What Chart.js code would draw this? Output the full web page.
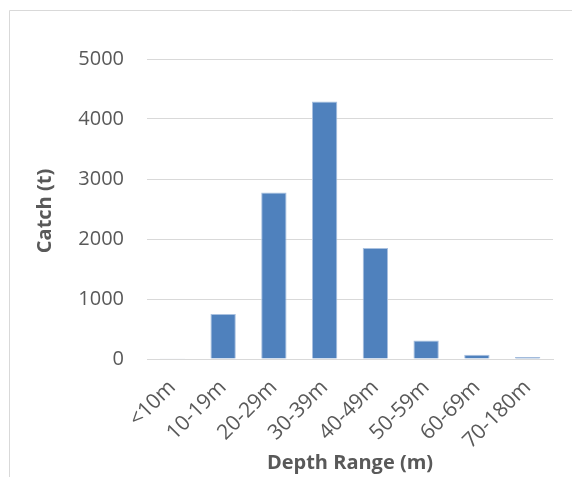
<!DOCTYPE html>
<html>
<head>
<meta charset="utf-8">
<script src="https://cdn.jsdelivr.net/npm/chart.js@4/dist/chart.umd.min.js"></script>
<style>
  html, body { margin: 0; padding: 0; background: #ffffff; }
  #wrap { width: 572px; height: 477px; position: relative; }
</style>
</head>
<body>
<div id="wrap"><canvas id="c" width="572" height="477"></canvas></div>
<script>
// Catch by depth band
const depthRanges = ['<10m', '10-19m', '20-29m', '30-39m', '40-49m', '50-59m', '60-69m', '70-180m'];
const catchTonnes = [12, 750, 2775, 4290, 1850, 310, 72, 33];
const yTicks = [0, 1000, 2000, 3000, 4000, 5000];
const xTitle = 'Depth Range (m)';
const yTitle = 'Catch (t)';

const FONT = "'Open Sans', 'Liberation Sans', sans-serif";
const TEXT = '#595959';
const GRID = '#d9d9d9';

// Thin outer frame around the chart object, plus the two axis titles
const decorPlugin = {
  id: 'decor',
  beforeDraw(chart) {
    const ctx = chart.ctx;
    ctx.save();
    ctx.strokeStyle = GRID;
    ctx.lineWidth = 1;
    ctx.beginPath();
    ctx.moveTo(9.5, chart.height + 2);
    ctx.lineTo(9.5, 10.5);
    ctx.lineTo(chart.width + 2, 10.5);
    ctx.stroke();
    ctx.restore();
  },
  afterDraw(chart) {
    const ctx = chart.ctx;
    const area = chart.chartArea;
    ctx.save();
    ctx.fillStyle = TEXT;
    ctx.font = "bold 20px " + FONT;
    ctx.textAlign = 'center';
    ctx.textBaseline = 'middle';
    ctx.fillText(xTitle, (area.left + area.right) / 2, 463);
    ctx.translate(45, (area.top + area.bottom) / 2 + 2);
    ctx.rotate(-Math.PI / 2);
    ctx.fillText(yTitle, 0, 0);
    ctx.restore();
  }
};

new Chart(document.getElementById('c'), {
  type: 'bar',
  data: {
    labels: depthRanges,
    datasets: [{
      data: catchTonnes,
      backgroundColor: '#4f81bd',
      borderColor: '#a9c1e0',
      borderWidth: 1,
      barPercentage: 0.5,
      categoryPercentage: 1.0
    }]
  },
  options: {
    responsive: false,
    animation: false,
    devicePixelRatio: 1,
    layout: { padding: { left: 0, right: 19, top: 59, bottom: 0 } },
    plugins: { legend: { display: false }, tooltip: { enabled: false } },
    scales: {
      x: {
        grid: { display: false, drawTicks: false },
        border: { display: true, color: GRID, width: 1 },
        ticks: {
          color: TEXT,
          font: { family: FONT, size: 21 },
          minRotation: 45,
          maxRotation: 45,
          padding: 16,
          autoSkip: false
        },
        afterFit(scale) {
          scale.height = 118;
          scale.paddingLeft = 0;
          scale.paddingRight = 0;
        }
      },
      y: {
        min: 0,
        max: 5000,
        afterBuildTicks(scale) { scale.ticks = yTicks.map(v => ({ value: v })); },
        grid: { color: GRID, lineWidth: 1, drawTicks: false },
        border: { display: false },
        ticks: {
          color: TEXT,
          font: { family: FONT, size: 20 },
          padding: 23,
          callback: v => String(v)
        },
        afterFit(scale) {
          scale.width = 147;
          scale.paddingTop = 0;
          scale.paddingBottom = 0;
        }
      }
    }
  },
  plugins: [decorPlugin]
});
</script>
</body>
</html>
